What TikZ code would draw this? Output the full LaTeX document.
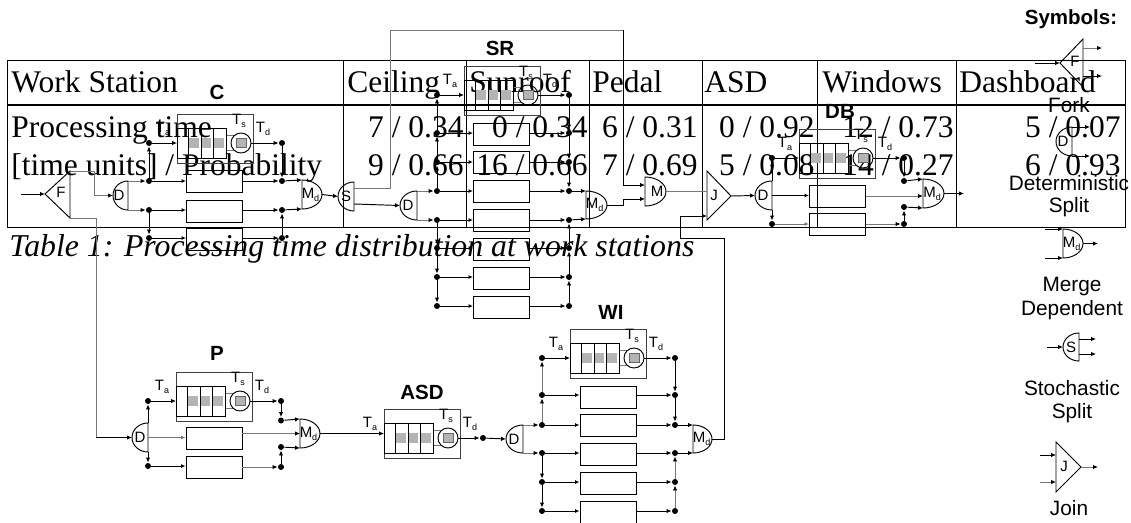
\documentclass[tikz,border=0pt]{standalone}
\usepackage{fontspec}
\setmainfont{Liberation Serif}
\newfontfamily\ar{Liberation Sans}
\usetikzlibrary{arrows.meta,calc}
\definecolor{sq}{HTML}{B4B4B4}
\definecolor{gl}{HTML}{777777}
\tikzset{
  fa/.style={-{Latex[length=5pt,width=4.5pt,color=black]}},
  oa/.style={-{Latex[open,length=4.5pt,width=4pt]}},
  dotn/.style={circle,fill=black,inner sep=0pt,minimum size=6pt},
  bx/.style={draw,rectangle,inner sep=0pt,minimum width=56pt,minimum height=22pt},
  tb/.style={inner sep=0pt,font=\fontsize{31.5}{31.5}\selectfont},
  bigt/.style={inner sep=0pt,font=\ar\bfseries\fontsize{20.5}{20.5}\selectfont},
  captxt/.style={inner sep=0pt,font=\ar\fontsize{20.8}{20.8}\selectfont},
  symt/.style={inner sep=0pt,font=\ar\fontsize{15}{15}\selectfont},
}
\newcommand{\subl}[2]{#1{\fontsize{9}{9}\selectfont\raisebox{-3pt}{#2}}}
% half ellipse gate: name, flat x, tip x, top y, bottom y, label, label x
\newcommand{\gate}[7]{%
  \pgfmathsetmacro{\gc}{(#4+#5)/2}%
  \pgfmathsetmacro{\gh}{(#5-#4)/2*0.55}%
  \pgfmathsetmacro{\gw}{#2+(#3-#2)*0.55}%
  \draw (#2,#4) .. controls (\gw,#4) and (#3,\gc-\gh) .. (#3,\gc)
        .. controls (#3,\gc+\gh) and (\gw,#5) .. (#2,#5) -- cycle;
  \coordinate (#1-t) at (#2,#4);
  \coordinate (#1-b) at (#2,#5);
  \coordinate (#1-f) at (#2,\gc);
  \coordinate (#1-m) at (#3,\gc);
  \node[symt] (#1) at (#7,\gc) {#6};
}
% queue station: name, x0, y0
\newcommand{\station}[3]{%
  \begin{scope}[shift={(#2,#3)}]
    \node[draw=black!75,inner sep=0pt,minimum width=76pt,minimum height=49pt,anchor=north west] (#1) at (0,-29) {};
    \draw[gl] (49,-8) -- (57,-8) (49,7) -- (57,7);
    \foreach \qx in {17,29,42} \fill[sq] (\qx-4.8,-4.8) rectangle (\qx+4.8,4.8);
    \node[draw,inner sep=0pt,minimum width=49pt,minimum height=30pt,anchor=west] (#1-q) at (0,0) {};
    \draw (11,-15) -- (11,15) (24,-15) -- (24,15) (36,-15) -- (36,15);
    \node[draw,circle,inner sep=0pt,minimum size=20pt] (#1-c) at (64,0) {};
    \fill[sq] (59.5,-4.8) rectangle (69,4.8);
    \draw[black!60] (59.5,-4.8) rectangle (69,4.8);
    \node[symt] (#1-ta) at (-14,-14) {\subl{T}{a}};
    \node[symt] (#1-ts) at (62,-22) {\subl{T}{s}};
    \node[symt] (#1-td) at (86,-14) {\subl{T}{d}};
  \end{scope}
}
\begin{document}
\begin{tikzpicture}[x=1pt,y=-1pt,line width=0.95pt]
\useasboundingbox (0,0) rectangle (1131,522);
\fill[white] (0,0) rectangle (1131,522);
% ---------- table ----------
\draw (7,60) rectangle (1125,227);
\draw[line width=1.5pt] (7,105) -- (1125,105);
\foreach \cx in {343,466,589,702,817,956} \draw (\cx,60) -- (\cx,227);
\node[tb,anchor=base west] (h0) at (11,92) {Work Station};
\node[tb,anchor=base west] (h1) at (347,92) {Ceiling};
\node[tb,anchor=base west] (h2) at (469,92) {Sunroof};
\node[tb,anchor=base west] (h3) at (592,92) {Pedal};
\node[tb,anchor=base west] (h4) at (704,92) {ASD};
\node[tb,anchor=base west] (h5) at (822,92) {Windows};
\node[tb,anchor=base west] (h6) at (959,92) {Dashboard};
\node[tb,anchor=base west] (r1) at (11,137) {Processing time};
\node[tb,anchor=base west] (r2) at (11,175) {[time units] / Probability};
\node[tb,anchor=base east] (v11) at (464,137) {7 / 0.34};
\node[tb,anchor=base east] (v21) at (464,175) {9 / 0.66};
\node[tb,anchor=base east] (v12) at (588,137) {0 / 0.34};
\node[tb,anchor=base east] (v22) at (588,175) {16 / 0.66};
\node[tb,anchor=base east] (v13) at (698,137) {6 / 0.31};
\node[tb,anchor=base east] (v23) at (698,175) {7 / 0.69};
\node[tb,anchor=base east] (v14) at (815,137) {0 / 0.92};
\node[tb,anchor=base east] (v24) at (815,175) {5 / 0.08};
\node[tb,anchor=base east] (v15) at (954,137) {12 / 0.73};
\node[tb,anchor=base east] (v25) at (954,175) {14 / 0.27};
\node[tb,anchor=base east] (v16) at (1121,137) {5 / 0.07};
\node[tb,anchor=base east] (v26) at (1121,175) {6 / 0.93};
\node[tb,anchor=base west,font=\itshape\fontsize{31.8}{31.8}\selectfont] (cap1) at (9,256) {Table 1: Processing time distribution at work stations};
% ---------- fork ----------
\draw (45,194) coordinate (f-m) -- (70,171) coordinate (f-t) -- (70,218) coordinate (f-b) -- cycle;
\node[symt] (f) at (61,192) {F};
\coordinate (f-in) at (21,194);
\draw[fa] (f-in) -- (f-m);
% ---------- C ----------
\node[bigt] (cname) at (217,92) {C};
\station{c}{177}{143}
\gate{cd}{128}{113}{181}{210}{D}{119}
\foreach \n/\y in {0/143,1/181,2/210,3/238} {
  \node[dotn] (c-l\n) at (149,\y) {};
  \node[dotn] (c-r\n) at (282,\y) {};
}
\node[bx] (c-b1) at (214.5,181.5) {};
\node[bx] (c-b2) at (214.5,211) {};
\node[bx] (c-b3) at (214.5,239) {};
\gate{cm}{302}{322}{180}{209}{\subl{M}{d}}{310.5}
\draw[fa] (c-l1) -- (c-l0);
\draw[fa] (c-l2) -- (c-l3);
\draw[fa] (c-l0) -- (c-q.west |- c-l0);
\draw[fa] (c-c.east) -- (c-r0);
\draw[fa] (c-r0) -- (c-r1);
\draw[fa] (c-r3) -- (c-r2);
\draw[fa,gl] (cd-t) -- (c-l1);
\draw[fa,gl] (cd-b) -- (c-l2);
\foreach \n in {1,2,3} {
  \draw[oa] (c-l\n) -- (c-b\n.west |- c-l\n);
  \draw[fa] (c-b\n.east |- c-r\n) -- (c-r\n);
}
\draw[fa] (c-r1) -- (cm-t);
\draw[fa] (c-r2) -- (cm-b);
\coordinate (fk1) at (94,171);
\draw[fa,gl] (f-t) -- (fk1) |- (cd-m);
% ---------- S ----------
\gate{ss}{354}{338}{182}{211}{S}{346}
\draw[fa] (cm-m) -- (ss-m);
\coordinate (so1) at (354,188);
\coordinate (so2) at (354,204);
% ---------- SR ----------
\node[bigt] (srname) at (500,48) {SR};
\station{sr}{464}{95}
\gate{srd}{417}{400}{191}{220}{D}{408}
\foreach \n/\y in {0/95,1/133,2/162,3/191,4/220,5/248,6/277,7/306} {
  \node[dotn] (sr-l\n) at (437,\y) {};
  \node[dotn] (sr-r\n) at (569,\y) {};
}
\foreach \n/\y in {1/134,2/162,3/191,4/220,5/249,6/278,7/307} \node[bx] (sr-b\n) at (501.5,\y) {};
\gate{srm}{586}{607}{191}{219}{\subl{M}{d}}{594.5}
\draw[fa] (so2) -- (srd-m);
\draw[fa,gl] (srd-t) -- (sr-l3);
\draw[fa,gl] (srd-b) -- (sr-l4);
\draw[fa] (sr-l3) -- (sr-l2);
\draw[fa] (sr-l2) -- (sr-l1);
\draw[fa] (sr-l1) -- (sr-l0);
\draw[fa] (sr-l4) -- (sr-l5);
\draw[fa] (sr-l5) -- (sr-l6);
\draw[fa] (sr-l6) -- (sr-l7);
\draw[fa] (sr-r0) -- (sr-r1);
\draw[fa] (sr-r1) -- (sr-r2);
\draw[fa] (sr-r2) -- (sr-r3);
\draw[fa] (sr-r7) -- (sr-r6);
\draw[fa] (sr-r6) -- (sr-r5);
\draw[fa] (sr-r5) -- (sr-r4);
\draw[fa] (sr-l0) -- (sr-q.west |- sr-l0);
\draw[fa] (sr-c.east) -- (sr-r0);
\foreach \n in {1,...,7} {
  \draw[oa] (sr-l\n) -- (sr-b\n.west |- sr-l\n);
  \draw[fa] (sr-b\n.east |- sr-r\n) -- (sr-r\n);
}
\draw[fa] (sr-r3) -- (srm-t);
\draw[fa] (sr-r4) -- (srm-b);
% ---------- M ----------
\gate{mm}{645}{666}{177}{206}{M}{657}
\coordinate (mi1) at (645,185);
\coordinate (mi2) at (645,199);
\coordinate (lp1) at (390,30);
\coordinate (lp2) at (623,30);
\coordinate (lp3) at (623,205);
\draw[gl] (so1) -| (lp1) -- (lp2);
\draw[fa] (lp2) |- (mi1);
\draw[fa] (srm-m) -- (lp3) |- (mi2);
% ---------- J ----------
\draw (707,171) coordinate (j-t) -- (707,220) coordinate (j-b) -- (731,196) coordinate (j-m) -- cycle;
\node[symt] (j) at (714,195) {J};
\coordinate (ji1) at (707,191.5);
\coordinate (ji2) at (707,216);
\draw[gl] (mm-m) -- (ji1);
% ---------- DB ----------
\node[bigt] (dbname) at (840,111) {DB};
\station{db}{799}{158}
\gate{dbd}{772}{755}{181}{210}{D}{763}
\node[dotn] (db-l0) at (772,158) {};
\node[dotn] (db-l2) at (772,224) {};
\node[dotn] (db-r0) at (904,158) {};
\node[dotn] (db-r1) at (904,181) {};
\node[dotn] (db-r2) at (904,207) {};
\node[dotn] (db-r3) at (904,224) {};
\node[bx] (db-b1) at (837.5,196) {};
\node[bx] (db-b2) at (837.5,224.5) {};
\gate{dbm}{923}{944}{179}{208}{\subl{M}{d}}{932}
\draw[fa] (j-m) -- (dbd-m);
\draw[fa] (dbd-t) -- (db-l0);
\draw[fa] (dbd-b) -- (db-l2);
\draw[fa] (db-l0) -- (db-q.west |- db-l0);
\draw[fa] (db-c.east) -- (db-r0);
\draw[fa] (db-r0) -- (db-r1);
\draw[fa] (db-r3) -- (db-r2);
\draw[oa] (dbd-f) -- (db-b1.west |- dbd-f);
\draw[oa,gl] (db-l2) -- (db-b2.west |- db-l2);
\draw[fa,gl] (db-b1.east) -- (db-b1.east -| dbm-f);
\draw[fa,gl] (db-b2.east |- db-r3) -- (db-r3);
\draw[fa] (db-r1) -- (dbm-t);
\draw[fa] (db-r2) -- (dbm-b);
\coordinate (dbo) at (964,193.5);
\draw[fa] (dbm-m) -- (dbo);
% ---------- P ----------
\node[bigt] (pname) at (217,353) {P};
\station{p}{176}{401}
\gate{pd}{148}{132}{423}{452}{D}{140}
\node[dotn] (p-l0) at (148,401) {};
\node[dotn] (p-l2) at (148,466) {};
\node[dotn] (p-r0) at (281,401) {};
\node[dotn] (p-r1) at (281,420.5) {};
\node[dotn] (p-r2) at (281,447) {};
\node[dotn] (p-r3) at (281,467) {};
\node[bx] (p-b1) at (214,438) {};
\node[bx] (p-b2) at (214,467) {};
\gate{pm}{300}{320}{419}{448}{\subl{M}{d}}{308.5}
\coordinate (fd) at (96,437.5);
\draw[gl] (f-b) -| (fd);
\draw[fa] (fd) -- (pd-m);
\draw[fa] (pd-t) -- (p-l0);
\draw[fa] (pd-b) -- (p-l2);
\draw[fa] (p-l0) -- (p-q.west |- p-l0);
\draw[fa] (p-c.east) -- (p-r0);
\draw[fa] (p-r0) -- (p-r1);
\draw[fa] (p-r3) -- (p-r2);
\draw[oa,gl] (pd-f) -- (p-b1.west |- pd-f);
\draw[oa] (p-l2) -- (p-b2.west |- p-l2);
\draw[fa,gl] (p-b1.east |- pm-f) -- (pm-f);
\draw[fa,gl] (p-b2.east |- p-r3) -- (p-r3);
\draw[fa] (p-r1) -- (pm-t);
\draw[fa] (p-r2) -- (pm-b);
% ---------- ASD ----------
\node[bigt] (asdname) at (422,392) {ASD};
\station{as}{384}{438}
\node[dotn] (as-r) at (483,438) {};
\draw[fa] (pm-m) -- (as-q.west |- pm-m);
\draw[fa] (as-c.east) -- (as-r);
% ---------- WI ----------
\node[bigt] (winame) at (611,312) {WI};
\station{wi}{570}{358}
\gate{wd}{523}{506}{425}{453}{D}{514}
\foreach \n/\y in {0/358,1/395,2/425,3/453,4/482,5/511} {
  \node[dotn] (wi-l\n) at (542,\y) {};
  \node[dotn] (wi-r\n) at (675,\y) {};
}
\foreach \n/\y in {1/397,2/425,3/454,4/483,5/512} \node[bx] (wi-b\n) at (608,\y) {};
\gate{wm}{693}{712}{425}{453}{\subl{M}{d}}{701.5}
\draw[fa] (as-r) -- (wd-m);
\draw[fa,gl] (wd-t) -- (wi-l2);
\draw[fa,gl] (wd-b) -- (wi-l3);
\draw[fa,gl] (wi-l2) -- (wi-l1);
\draw[fa,gl] (wi-l1) -- (wi-l0);
\draw[fa] (wi-l3) -- (wi-l4);
\draw[fa] (wi-l4) -- (wi-l5);
\draw[fa] (wi-r0) -- (wi-r1);
\draw[fa] (wi-r1) -- (wi-r2);
\draw[fa,gl] (wi-r5) -- (wi-r4);
\draw[fa,gl] (wi-r4) -- (wi-r3);
\draw[fa] (wi-l0) -- (wi-q.west |- wi-l0);
\draw[fa] (wi-c.east) -- (wi-r0);
\foreach \n in {1,...,5} {
  \draw[oa] (wi-l\n) -- (wi-b\n.west |- wi-l\n);
  \draw[fa] (wi-b\n.east |- wi-r\n) -- (wi-r\n);
}
\draw[fa] (wi-r2) -- (wm-t);
\draw[fa] (wi-r3) -- (wm-b);
\coordinate (ret1) at (724,439);
\coordinate (ret2) at (724,238);
\coordinate (ret3) at (680,238);
\draw[fa] (wm-m) -- (ret1) -- (ret2) -- (ret3) |- (ji2);
% ---------- symbols ----------
\node[bigt] (symtitle) at (1071,19) {Symbols:};
\draw (1060,63) coordinate (sf-m) -- (1083,39) -- (1083,87) -- cycle;
\node[symt] (sf) at (1075,61) {F};
\coordinate (sf-in) at (1035,63);
\coordinate (sf-o1s) at (1083,48);
\coordinate (sf-o1) at (1102,48);
\coordinate (sf-o2s) at (1083,76);
\coordinate (sf-o2) at (1102,76);
\draw[fa] (sf-in) -- (sf-m);
\draw[fa,gl] (sf-o1s) -- (sf-o1);
\draw[fa] (sf-o2s) -- (sf-o2);
\node[captxt] (t1) at (1069,105) {Fork};
\gate{sd}{1072}{1056}{127}{156}{D}{1063}
\coordinate (sd-o1) at (1090,127);
\coordinate (sd-o2) at (1090,156);
\draw[fa] (sd-t) -- (sd-o1);
\draw[fa] (sd-b) -- (sd-o2);
\node[captxt] (t2) at (1069,183) {Deterministic};
\node[captxt] (t3) at (1069,207) {Split};
\gate{sm}{1063}{1083}{229}{258}{\subl{M}{d}}{1071.5}
\coordinate (sm-i1) at (1045,229);
\coordinate (sm-i2) at (1045,258);
\coordinate (sm-o) at (1098,243.5);
\draw[fa] (sm-i1) -- (sm-t);
\draw[fa] (sm-i2) -- (sm-b);
\draw[fa] (sm-m) -- (sm-o);
\node[captxt] (t4) at (1072,286) {Merge};
\node[captxt] (t5) at (1072,310) {Dependent};
\gate{sss}{1079}{1063}{333}{361}{S}{1071}
\coordinate (sss-in) at (1047,347);
\coordinate (sss-a) at (1079,339);
\coordinate (sss-b) at (1079,354);
\coordinate (sss-c) at (1096,339);
\coordinate (sss-d) at (1096,354);
\draw[fa] (sss-in) -- (sss-m);
\draw[fa] (sss-a) -- (sss-c);
\draw[fa] (sss-b) -- (sss-d);
\node[captxt] (t6) at (1072,388) {Stochastic};
\node[captxt] (t7) at (1072,413) {Split};
\draw (1056,442) coordinate (sj-t) -- (1056,492) coordinate (sj-b) -- (1081,467) coordinate (sj-m) -- cycle;
\node[symt] (sj) at (1064,466) {J};
\coordinate (sj-a) at (1040,455);
\coordinate (sj-b2) at (1040,482);
\coordinate (sj-ae) at (1056,455);
\coordinate (sj-be) at (1056,482);
\coordinate (sj-o) at (1098,467);
\draw[fa] (sj-a) -- (sj-ae);
\draw[fa,gl] (sj-b2) -- (sj-be);
\draw[fa,gl] (sj-m) -- (sj-o);
\node[captxt] (t8) at (1069,508) {Join};
\end{tikzpicture}
\end{document}
